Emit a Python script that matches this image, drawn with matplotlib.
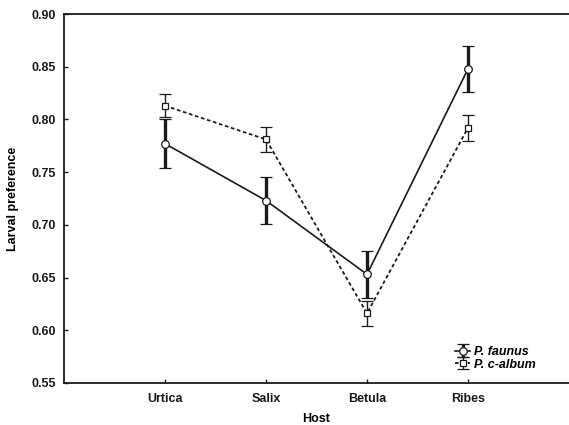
import matplotlib
matplotlib.use('Agg')
import matplotlib.pyplot as plt

hosts = ['Urtica', 'Salix', 'Betula', 'Ribes']

faunus_mean = [0.777, 0.723, 0.653, 0.848]
faunus_err = [0.023, 0.022, 0.022, 0.022]

calbum_mean = [0.813, 0.781, 0.616, 0.792]
calbum_err = [0.011, 0.012, 0.012, 0.012]

plt.rcParams['font.family'] = ['Liberation Sans', 'DejaVu Sans']

fig = plt.figure(figsize=(5.69, 4.25), dpi=100)
ax = fig.add_axes([0.1125, 0.099, 0.8875, 0.868])

x = list(range(len(hosts)))

ax.errorbar(x, faunus_mean, yerr=faunus_err, color='#1a1a1a', linestyle='-', linewidth=1.2,
            marker='o', markersize=5.5, markerfacecolor='white', markeredgecolor='#1a1a1a',
            markeredgewidth=0.9, ecolor='#1a1a1a', elinewidth=2.4, capsize=4, capthick=2.4,
            label='P. faunus')
ax.errorbar(x, calbum_mean, yerr=calbum_err, color='#1a1a1a', linestyle=(0, (2.0, 1.5)),
            linewidth=1.3, marker='s', markersize=3.8, markerfacecolor='white',
            markeredgecolor='#1a1a1a', markeredgewidth=0.9, ecolor='#1a1a1a',
            elinewidth=1.0, capsize=4, capthick=1.0, label='P. c-album')

ax.set_xlim(-1.0, 4.0)
ax.set_ylim(0.55, 0.90)
ax.set_xticks(x)
ax.set_xticklabels(hosts)
ax.set_yticks([0.55, 0.60, 0.65, 0.70, 0.75, 0.80, 0.85, 0.90])
ax.set_yticklabels(['%.2f' % v for v in ax.get_yticks()])

for lab in ax.get_xticklabels() + ax.get_yticklabels():
    lab.set_fontweight('bold')

for side in ['left', 'bottom', 'top']:
    ax.spines[side].set_linewidth(1.3)
    ax.spines[side].set_color('#1a1a1a')
ax.spines['right'].set_visible(False)

ax.tick_params(axis='both', direction='in', length=3, width=1, labelsize=9,
               colors='#1a1a1a')
ax.tick_params(axis='y', pad=6)
ax.tick_params(axis='x', pad=7)

ax.set_xlabel('Host', fontsize=9, fontweight='bold', labelpad=6)
ax.set_ylabel('Larval preference', fontsize=9, fontweight='bold', labelpad=9)

leg = ax.legend(loc='lower left', bbox_to_anchor=(0.765, 0.02), frameon=False,
                prop={'style': 'italic', 'weight': 'bold', 'size': 9}, handlelength=1.2,
                handletextpad=0.3, labelspacing=0.05, borderaxespad=0.0)

plt.savefig('out.png', dpi=100)
